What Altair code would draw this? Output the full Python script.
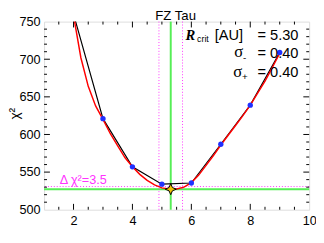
import altair as alt
import pandas as pd

# ---- data ----
r_grid = [2, 3, 4, 5, 6, 7, 8, 9]
chi2_grid = [760, 621, 557, 534, 535.5, 587, 639, 709]

fit_r = [2.0, 2.25, 2.5, 2.75, 3.0, 3.25, 3.5, 3.75, 4.0, 4.25, 4.5, 4.75,
         5.0, 5.3, 5.5, 5.75, 6.0, 6.25, 6.5, 6.75, 7.0, 7.25, 7.5, 7.75,
         8.0, 8.25, 8.5, 8.75, 9.0]
fit_chi2 = [758, 702, 664, 638, 620, 601, 585, 569, 557, 547, 539, 533,
            529, 527.3, 527.6, 530, 536, 546, 559, 572, 586, 599, 612, 625,
            639, 655, 671, 689, 708]

r_best = [5.30]
chi2_best = [527.3]
r_sigma = [4.90, 5.70]
chi2_thresh = [530.8]

x_major = [2, 4, 6, 8]
x_minor = [1.5, 2.5, 3, 3.5, 4.5, 5, 5.5, 6.5, 7, 7.5, 8.5, 9, 9.5]
y_major = [550, 600, 650, 700]
y_minor = [510, 520, 530, 540, 560, 570, 580, 590, 610, 620, 630, 640,
           660, 670, 680, 690, 710, 720, 730, 740]
x_labels = [2, 4, 6, 8, 10]
y_labels = [500, 550, 600, 650, 700, 750]

W, H = 272, 193
FONT = "Liberation Sans"
SERIF = "Liberation Serif"
GREEN = "#55ee55"
MAGENTA = "#ff33ff"

xscale = alt.Scale(domain=[1, 10], nice=False, zero=False)
yscale = alt.Scale(domain=[500, 750], nice=False, zero=False)
xaxis = alt.Axis(values=x_labels, ticks=False, domain=False, grid=False,
                 labelFont=FONT, labelFontSize=13, labelColor="black",
                 labelPadding=5, title=None, labelFlush=False)
yaxis = alt.Axis(values=y_labels, ticks=False, domain=False, grid=False,
                 labelFont=FONT, labelFontSize=13, labelColor="black",
                 labelPadding=4, title=None, labelFlush=False)


def X(f):
    return alt.X(f, type="quantitative", scale=xscale, axis=xaxis)


def Y(f):
    return alt.Y(f, type="quantitative", scale=yscale, axis=yaxis)


grid_df = pd.DataFrame({"r": r_grid, "chi2": chi2_grid})
fit_df = pd.DataFrame({"r": fit_r, "chi2": fit_chi2})
best_df = pd.DataFrame({"r": r_best, "chi2": chi2_best})
sig_df = pd.DataFrame({"r": r_sigma})
thr_df = pd.DataFrame({"chi2": chi2_thresh})

green_v = alt.Chart(best_df).mark_rule(color=GREEN, strokeWidth=2).encode(x=X("r"))
green_h = alt.Chart(best_df).mark_rule(color=GREEN, strokeWidth=2).encode(y=Y("chi2"))
mag_v = alt.Chart(sig_df).mark_rule(color=MAGENTA, strokeWidth=1, strokeDash=[1, 2]).encode(x=X("r"))
mag_h = alt.Chart(thr_df).mark_rule(color=MAGENTA, strokeWidth=1, strokeDash=[1, 2]).encode(y=Y("chi2"))

black_line = alt.Chart(grid_df).mark_line(color="black", strokeWidth=1.2, clip=True).encode(
    x=X("r"), y=Y("chi2"))
red_line = alt.Chart(fit_df).mark_line(color="red", strokeWidth=1.5, clip=True).encode(
    x=X("r"), y=Y("chi2"))
pts = alt.Chart(grid_df).mark_circle(color="#2030ff", size=30, opacity=1, clip=True).encode(
    x=X("r"), y=Y("chi2"))
star_path = "M0,-1L0.3,-0.3L1,0L0.3,0.3L0,1L-0.3,0.3L-1,0L-0.3,-0.3Z"
star = alt.Chart(best_df).mark_point(shape=star_path, filled=True, fill="#f2c200",
                                     stroke="black", strokeWidth=1, size=130,
                                     opacity=1).encode(x=X("r"), y=Y("chi2"))


def tick_layers():
    out = []
    for vals, ln in ((x_major, 6), (x_minor, 3)):
        base = alt.Chart(pd.DataFrame({"v": vals}))
        out.append(base.mark_rule(color="black").encode(x=X("v"), y=alt.value(H), y2=alt.value(H - ln)))
        out.append(base.mark_rule(color="black").encode(x=X("v"), y=alt.value(0), y2=alt.value(ln)))
    for vals, ln in ((y_major, 6), (y_minor, 3)):
        base = alt.Chart(pd.DataFrame({"v": vals}))
        out.append(base.mark_rule(color="black").encode(y=Y("v"), x=alt.value(0), x2=alt.value(ln)))
        out.append(base.mark_rule(color="black").encode(y=Y("v"), x=alt.value(W), x2=alt.value(W - ln)))
    return out


one = pd.DataFrame({"a": [0]})


def txt(text, x, y, size=14, align="left", font=FONT, color="black", **kw):
    return alt.Chart(one).mark_text(text=text, align=align, baseline="alphabetic",
                                    font=font, fontSize=size, color=color, **kw).encode(
        x=alt.value(x), y=alt.value(y))


texts = [
    txt("FZ Tau", 135, -1.5, size=13.5, align="center"),
    txt("χ²", -26, H / 2 - 2, size=14, align="center", angle=270),
    txt("R", 145, 18.5, size=15, font=SERIF, fontWeight="bold", fontStyle="italic"),
    txt("crit", 157, 21, size=9),
    txt("[AU]", 175, 18.5, size=15),
    txt("= 5.30", 261, 18.5, size=15, align="right"),
    txt("σ", 195, 36.5, size=17, font=SERIF),
    txt("-", 204, 40, size=10),
    txt("= 0.40", 261, 37, size=15, align="right"),
    txt("σ", 194, 56.5, size=17, font=SERIF),
    txt("+", 203, 60, size=10),
    txt("= 0.40", 261, 57, size=15, align="right"),
    txt("Δ χ²=3.5", 16, 167, size=13, color=MAGENTA),
]

chart = alt.layer(
    green_v, green_h, mag_v, mag_h, black_line, red_line, pts, star,
    *tick_layers(), *texts
).properties(
    width=W, height=H,
    autosize=alt.AutoSizeParams(type="none"),
    padding={"left": 37, "top": 11, "right": 7, "bottom": 24},
).configure_view(stroke="black", strokeWidth=1).configure(background="white")

chart.save("out.html", embed_options={"renderer": "svg", "actions": False})
